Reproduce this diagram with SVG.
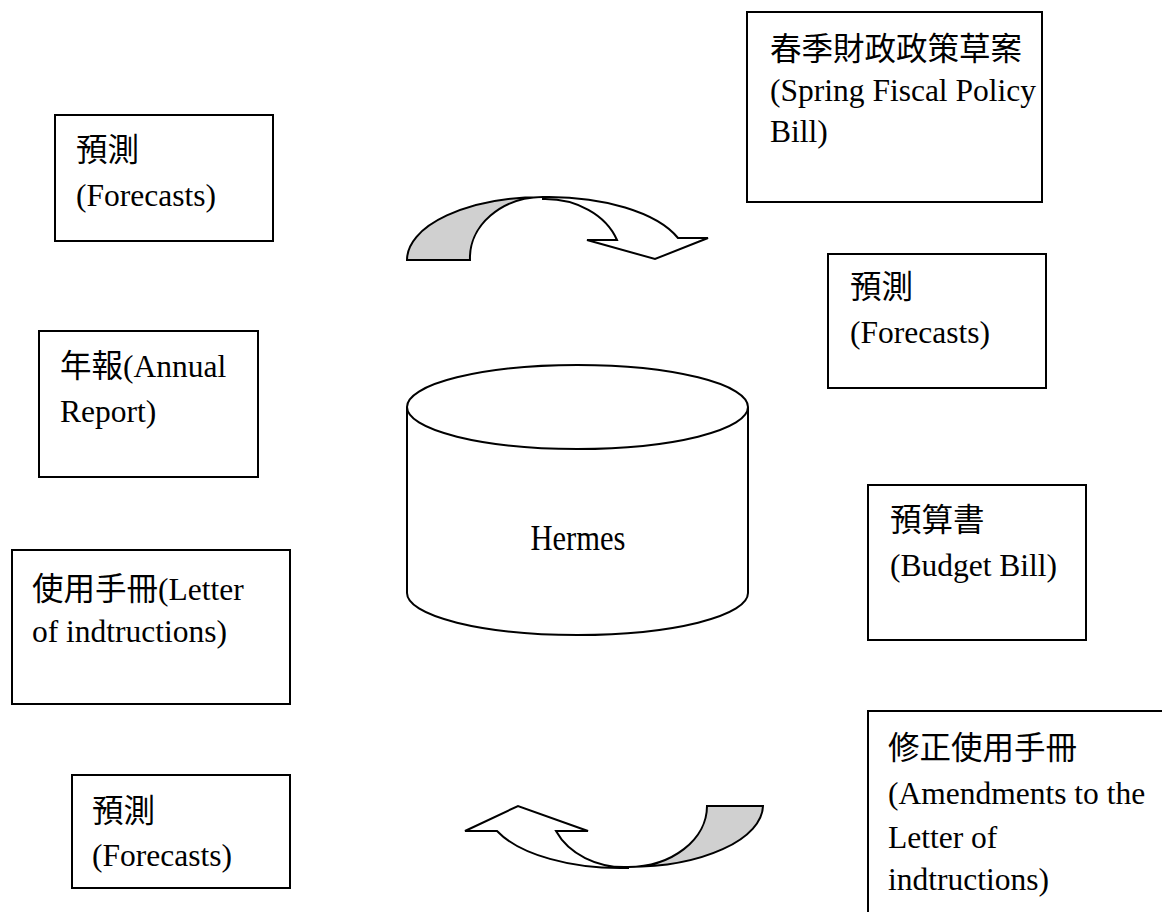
<svg xmlns="http://www.w3.org/2000/svg" width="1162" height="912" viewBox="0 0 1162 912">
<style>
.box{fill:#fff;stroke:#000;stroke-width:2}
.t{font-family:"Liberation Serif","Noto Sans CJK TC",serif;font-size:31.5px;fill:#000}
.sh{stroke:#000;stroke-width:2;stroke-linejoin:miter}
</style>
<rect width="1162" height="912" fill="#fff"/>
<g id="forecasts1"><rect class="box" x="55" y="115" width="218" height="126"/><text class="t" x="76" y="161">預測</text><text class="t" x="76" y="206">(Forecasts)</text></g>
<g id="annual"><rect class="box" x="39" y="331" width="219" height="146"/><text class="t" x="60" y="377">年報(Annual</text><text class="t" x="60" y="422">Report)</text></g>
<g id="letter"><rect class="box" x="12" y="550" width="278" height="154"/><text class="t" x="32" y="600">使用手冊(Letter</text><text class="t" x="32" y="642">of indtructions)</text></g>
<g id="forecasts3"><rect class="box" x="72" y="775" width="218" height="113"/><text class="t" x="92" y="822">預測</text><text class="t" x="92" y="866">(Forecasts)</text></g>
<g id="spring"><rect class="box" x="747" y="12" width="295" height="190"/><text class="t" x="770" y="60">春季財政政策草案</text><text class="t" x="770" y="101">(Spring Fiscal Policy</text><text class="t" x="770" y="142">Bill)</text></g>
<g id="forecasts2"><rect class="box" x="828" y="254" width="218" height="134"/><text class="t" x="850" y="298">預測</text><text class="t" x="850" y="343">(Forecasts)</text></g>
<g id="budget"><rect class="box" x="868" y="485" width="218" height="155"/><text class="t" x="890" y="531">預算書</text><text class="t" x="890" y="576">(Budget Bill)</text></g>
<g id="amend"><rect class="box" x="868" y="711" width="400" height="300"/><text class="t" x="888" y="759">修正使用手冊</text><text class="t" x="888" y="804">(Amendments to the</text><text class="t" x="888" y="848">Letter of</text><text class="t" x="888" y="890">indtructions)</text></g>
<g id="hermes">
<path class="sh" fill="#fff" d="M407,407 L407,593 A170.5,42 0 0 0 748,593 L748,407"/>
<ellipse class="sh" fill="#fff" cx="577.5" cy="407" rx="170.5" ry="42"/>
<text x="578" y="550" text-anchor="middle" textLength="95" lengthAdjust="spacingAndGlyphs" style="font-family:'Liberation Serif',serif;font-size:35px">Hermes</text>
</g>
<g id="connectors">
<path class="sh" fill="#fff" d="M543,197 A138,63 0 0 1 678,238 L708,238 L655,259 L587,240 L617,240 A76,61 0 0 0 543,199 Z"/>
<path class="sh" fill="#d0d0d0" d="M407,260 A136,63 0 0 1 543,197 A73,61 0 0 0 470,260 Z"/>
<path class="sh" fill="#fff" d="M628,868 A135,62 0 0 1 497,831 L465,831 L518,806 L588,831 L556,831 A75,61 0 0 0 628,867 Z"/>
<path class="sh" fill="#d0d0d0" d="M763,806 L707,806 A79,61 0 0 1 628,867 A135,62 0 0 0 763,806 Z"/>
</g>
</svg>
